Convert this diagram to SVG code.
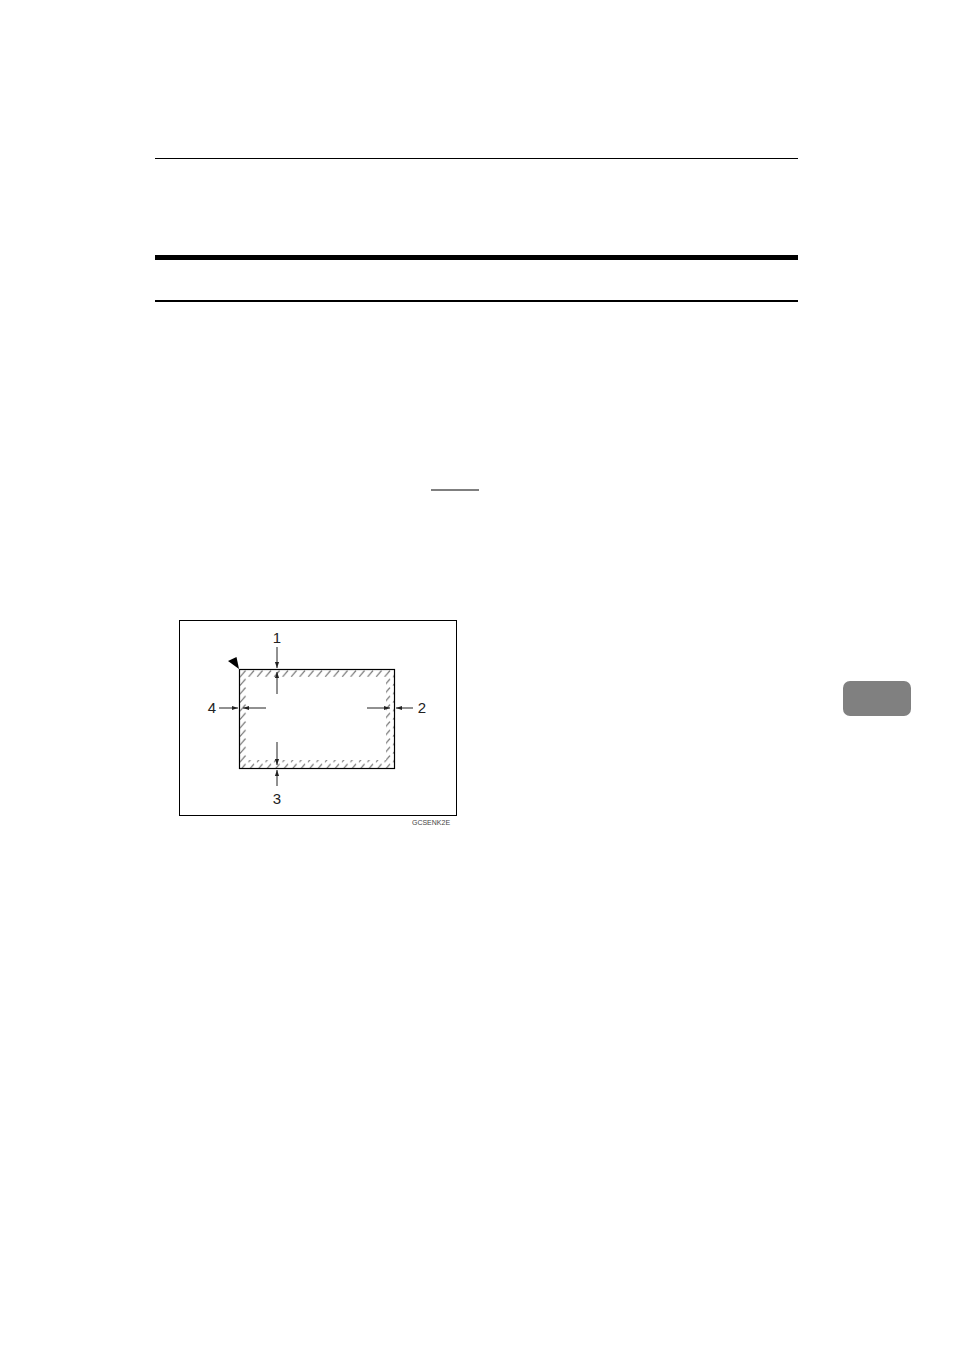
<svg xmlns="http://www.w3.org/2000/svg" width="954" height="1348" viewBox="0 0 954 1348">
<style>
.lbl{font-family:"Liberation Sans",Arial,sans-serif;font-size:15px;fill:#222;text-anchor:middle}
.conn{stroke:#222;stroke-width:1;fill:none;marker-end:url(#ah)}
.code{font-family:"Liberation Sans",Arial,sans-serif;font-size:7px;fill:#444;text-anchor:middle}
</style>
<defs>
<marker id="ah" viewBox="0 0 10 10" refX="10" refY="5" markerWidth="7" markerHeight="6" orient="auto" markerUnits="userSpaceOnUse">
<path d="M0,1.5 L10,5 L0,8.5 Z" fill="#222"/>
</marker>
<pattern id="hatch" patternUnits="userSpaceOnUse" width="8.5" height="8.5" x="239" y="669">
<line x1="1" y1="8" x2="6.5" y2="1.5" stroke="#555" stroke-width="1"/>
</pattern>
</defs>
<rect width="954" height="1348" fill="#fff"/>
<g id="page-rules">
<line x1="155" y1="158.5" x2="798" y2="158.5" stroke="#000" stroke-width="1"/>
<rect x="155" y="255" width="643" height="5" fill="#000"/>
<rect x="155" y="300" width="643" height="2" fill="#000"/>
<line x1="431" y1="490" x2="479" y2="490" stroke="#000" stroke-width="1.2"/>
</g>
<g id="tab"><rect x="843" y="681" width="68" height="35" rx="7" fill="#808080"/></g>
<g id="frame"><rect x="179.5" y="620.5" width="277" height="195" fill="none" stroke="#000" stroke-width="1"/></g>
<g id="paper">
<path d="M239,669 H394 V768 H239 Z M247,677 V760 H386 V677 Z" fill="url(#hatch)" fill-rule="evenodd"/>
<rect x="239.5" y="669.5" width="155" height="99" fill="none" stroke="#000" stroke-width="1.2"/>
<path d="M228,661 L236.5,657 L239,669 Z" fill="#000"/>
</g>
<g id="connectors">
<line class="conn" x1="277" y1="647" x2="277" y2="668"/>
<line class="conn" x1="277" y1="694" x2="277" y2="672"/>
<line class="conn" x1="277" y1="786" x2="277" y2="770"/>
<line class="conn" x1="277" y1="742" x2="277" y2="765"/>
<line class="conn" x1="219" y1="708" x2="238" y2="708"/>
<line class="conn" x1="266" y1="708" x2="243" y2="708"/>
<line class="conn" x1="413" y1="708" x2="396" y2="708"/>
<line class="conn" x1="367" y1="708" x2="390" y2="708"/>
</g>
<g id="labels">
<text class="lbl" x="277" y="643">1</text>
<text class="lbl" x="422" y="713">2</text>
<text class="lbl" x="277" y="804">3</text>
<text class="lbl" x="212" y="713">4</text>
<text class="code" x="431" y="825">GCSENK2E</text>
</g>
</svg>
